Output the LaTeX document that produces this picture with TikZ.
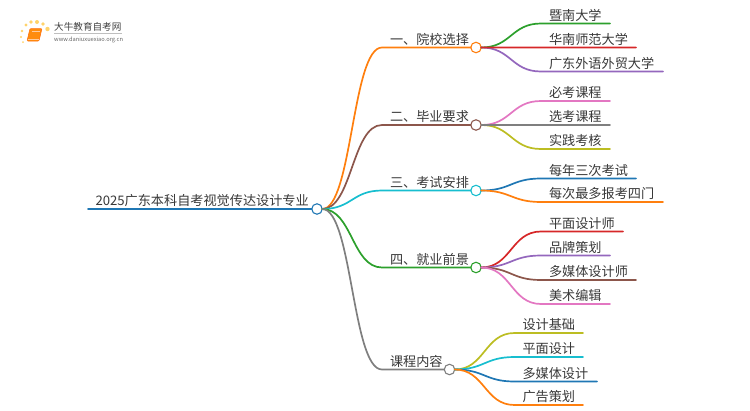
\documentclass[tikz,border=0pt]{standalone}
\usepackage{fontspec}
\setmainfont{Noto Sans CJK SC}[BoldFont={Noto Sans CJK SC}]
\usetikzlibrary{calc}
\definecolor{cOrange}{HTML}{FF7F0E}
\definecolor{cBlue}{HTML}{1F77B4}
\definecolor{cGreen}{HTML}{2CA02C}
\definecolor{cRed}{HTML}{D62728}
\definecolor{cPurple}{HTML}{9467BD}
\definecolor{cBrown}{HTML}{8C564B}
\definecolor{cPink}{HTML}{E377C2}
\definecolor{cGray}{HTML}{7F7F7F}
\definecolor{cOlive}{HTML}{BCBD22}
\definecolor{cCyan}{HTML}{17BECF}
\definecolor{cDot}{HTML}{FFD36B}
\tikzset{
  lbl/.style={anchor=base west,inner sep=0pt,outer sep=0pt,text=black!78,font=\fontsize{13.15}{14}\selectfont},
  hub/.style={circle,draw=#1,fill=white,line width=1.1pt,minimum size=10.5pt,inner sep=0pt,outer sep=0pt},
  wire/.style={draw=#1,line width=1.7pt,line cap=round},
}
% colour, start node, bend point, end point
\newcommand{\link}[4]{%
  \draw[wire=#1] (#2.east) .. controls ($(#2.east)!.5!(#3|-#2.east)$) and ($(#2.east|-#3)!.5!(#3)$) .. (#3) -- (#4);
}
\begin{document}
\begin{tikzpicture}[x=1pt,y=-1pt]
\useasboundingbox (0,0) rectangle (750,410);
% logo
\foreach \px/\py/\s in {31/22/1.9,37/22/2.0,43/24/1.9,47.5/29/2.2,26/25/1.7,22/31/1.4,21/37/1.2,23/42/1.0}{
  \fill[cDot] (\px,\py) circle (\s);
}
\draw[fill=cOrange!90!yellow,draw=cOrange!85!red,line width=.5pt,rounded corners=1pt] (30,28.5) -- (42,28.5) -- (39,41) -- (27,41) -- cycle;
\draw[cOrange!40!white,line width=.9pt] (28,39.5) -- (38.5,39.5);
\draw[cOrange!40!white,line width=.5pt] (31.5,31.5) -- (39.5,31.5);
\node[anchor=base west,inner sep=0pt,text=black!75,font=\fontsize{9.6}{10}\selectfont] (logoa) at (54,30.5) {大牛教育自考网};
\draw[black!25,line width=.4pt] (54,33.5) -- (122,33.5);
\node[anchor=base west,inner sep=0pt,text=black!60,font=\fontsize{5.7}{6}\selectfont] (logob) at (54,41) {www.daniuxuexiao.org.cn};
% hubs
\node[hub=cBlue] (root) at (317,209) {};
\node[hub=cOrange] (h1) at (476,47.5) {};
\node[hub=cBrown] (h2) at (476,125) {};
\node[hub=cCyan] (h3) at (476,190.5) {};
\node[hub=cGreen] (h4) at (476,267.5) {};
\node[hub=cGray] (h5) at (449.5,369.5) {};
% main branches
\coordinate (rs) at (88,209.06);
\draw[wire=cBlue] (rs) -- (root.west);
\coordinate (e1) at (382,47.5);
\coordinate (e2) at (382,125);
\coordinate (e3) at (382,190.5);
\coordinate (e4) at (382,267.5);
\coordinate (e5) at (382,369.5);
\link{cOrange}{root}{e1}{h1.west}
\link{cBrown}{root}{e2}{h2.west}
\link{cCyan}{root}{e3}{h3.west}
\link{cGreen}{root}{e4}{h4.west}
\link{cGray}{root}{e5}{h5.west}
% leaves
\foreach \n/\col/\hub/\yy/\xe in {
 a/cGreen/h1/23.5/610,c/cPurple/h1/71.5/663,
 d/cPink/h2/101/610,f/cOlive/h2/149/610,
 g/cBlue/h3/178.5/636,h/cOrange/h3/202/663,
 i/cRed/h4/231.5/623,j/cPurple/h4/255.5/610,k/cBrown/h4/280/636,l/cPink/h4/304/610}{
  \coordinate (b\n) at (541,\yy);
  \coordinate (z\n) at (\xe,\yy);
  \link{\col}{\hub}{b\n}{z\n}
}
\coordinate (zb) at (636,47.56);
\coordinate (ze) at (610,125.06);
\draw[wire=cRed] (h1.east) -- (zb);
\draw[wire=cGray] (h2.east) -- (ze);
\foreach \n/\col/\yy/\xe in {m/cOlive/333/583,n/cCyan/357/583,o/cBlue/381.5/597,p/cOrange/405/583}{
  \coordinate (b\n) at (514.5,\yy);
  \coordinate (z\n) at (\xe,\yy);
  \link{\col}{h5}{b\n}{z\n}
}
% labels
\node[lbl] (troot) at (95.5,205) {2025广东本科自考视觉传达设计专业};
\node[lbl] (t1) at (390,44) {一、院校选择};
\node[lbl] (t2) at (390,121.5) {二、毕业要求};
\node[lbl] (t3) at (390,187) {三、考试安排};
\node[lbl] (t4) at (390,264) {四、就业前景};
\node[lbl] (t5) at (390,366) {课程内容};
\node[lbl] (la) at (549,20) {暨南大学};
\node[lbl] (lb) at (549,44) {华南师范大学};
\node[lbl] (lc) at (549,68) {广东外语外贸大学};
\node[lbl] (ld) at (549,97.5) {必考课程};
\node[lbl] (le) at (549,121.5) {选考课程};
\node[lbl] (lf) at (549,145.5) {实践考核};
\node[lbl] (lg) at (549,175) {每年三次考试};
\node[lbl] (lh) at (549,198.5) {每次最多报考四门};
\node[lbl] (li) at (549,228) {平面设计师};
\node[lbl] (lj) at (549,252) {品牌策划};
\node[lbl] (lk) at (549,276.5) {多媒体设计师};
\node[lbl] (ll) at (549,300.5) {美术编辑};
\node[lbl] (lm) at (522.5,329.5) {设计基础};
\node[lbl] (ln) at (522.5,353.5) {平面设计};
\node[lbl] (lo) at (522.5,378) {多媒体设计};
\node[lbl] (lp) at (522.5,401.5) {广告策划};
\end{tikzpicture}
\end{document}
